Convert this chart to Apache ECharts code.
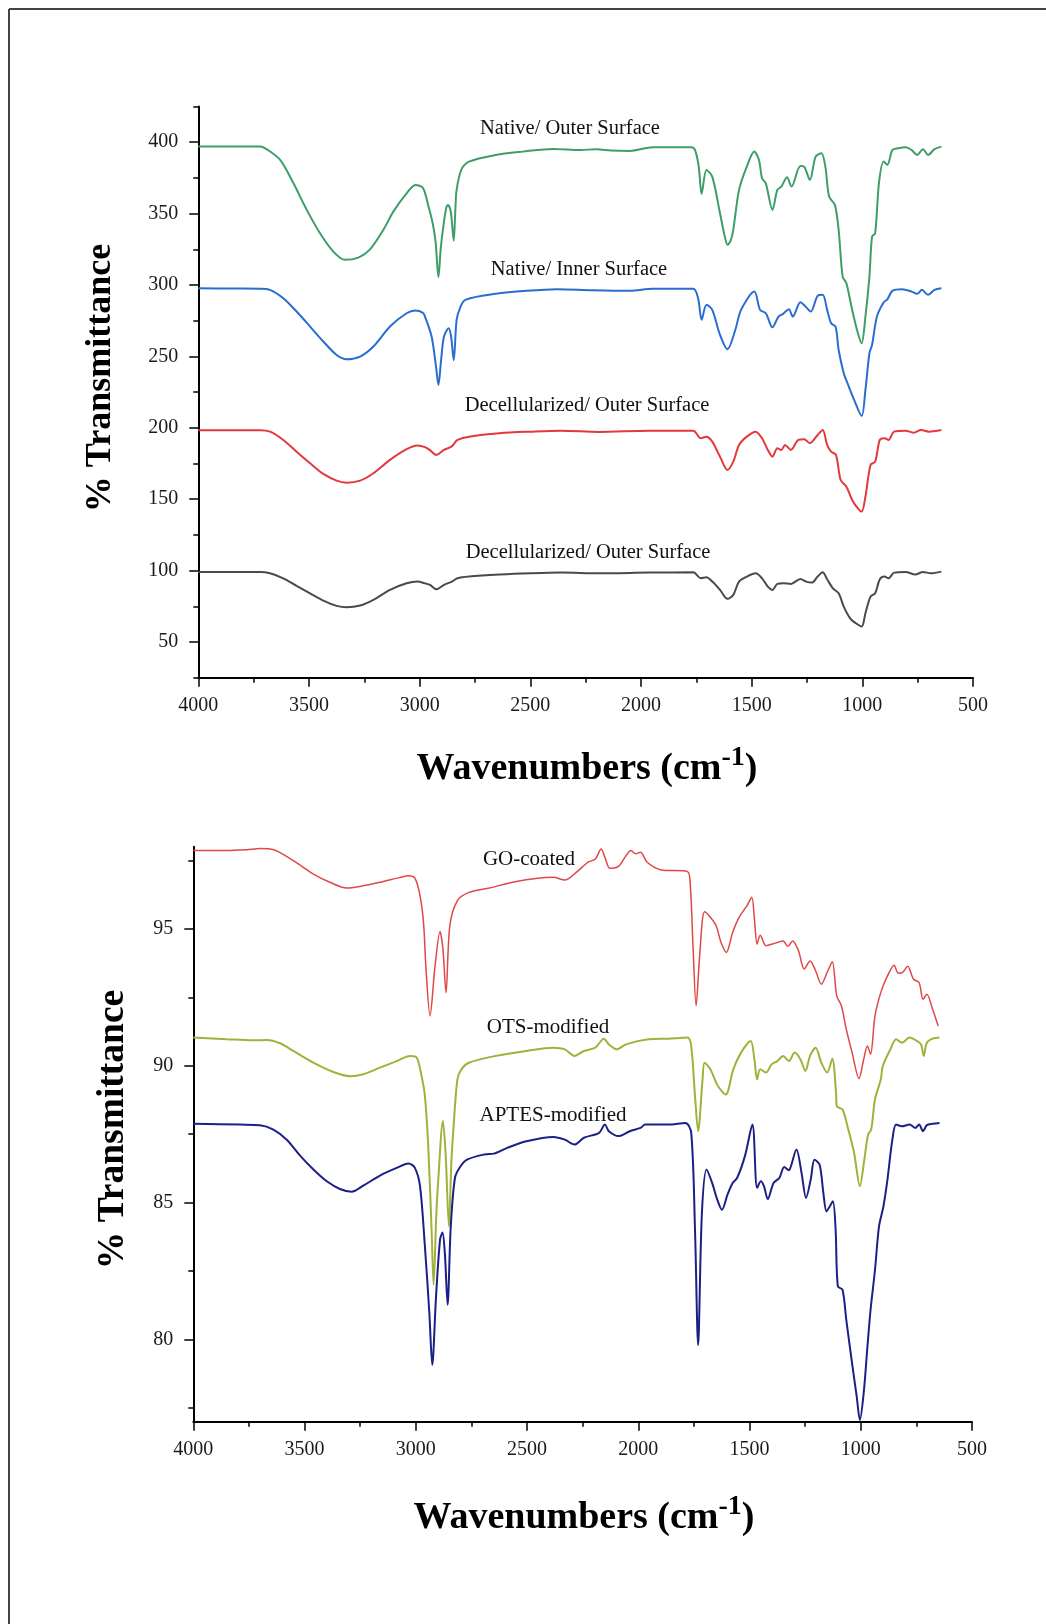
<!DOCTYPE html>
<html>
<head>
<meta charset="utf-8">
<script src="https://cdn.jsdelivr.net/npm/echarts@6/dist/echarts.min.js"></script>
<style>
  html, body { margin: 0; padding: 0; background: #fff; }
  #chart { width: 1046px; height: 1624px; }
</style>
</head>
<body>
<div id="chart"></div>
<script>
// tick values
const xTicks = [4000, 3500, 3000, 2500, 2000, 1500, 1000, 500];
const topYTicks = [50, 100, 150, 200, 250, 300, 350, 400];
const topYMinor = [25, 75, 125, 175, 225, 275, 325, 375, 425];
const bottomYTicks = [80, 85, 90, 95];
const bottomYMinor = [77.5, 82.5, 87.5, 92.5, 97.5];

// top panel spectra [wavenumber, %T] (offset)
const nativeOuter = [[4000,397],[3850,397],[3720,397],[3690,395],[3630,387.6],[3570,371.2],[3510,352.6],[3450,336.2],[3390,323.4],[3337,317.6],[3277,319.2],[3224,325],[3164,338.6],[3119,351.4],[3059,364.2],[3019,370.1],[2985,368],[2960,355],[2941,343.2],[2928,330],[2915,305.5],[2905,325],[2895,338.6],[2880,354],[2872,356.1],[2860,352],[2852,340],[2846,331],[2838,355],[2833,366.6],[2812,380.6],[2777,386.4],[2656,391.1],[2535,393.4],[2396,395.3],[2275,394.6],[2200,395],[2137,394.2],[2050,393.9],[1946,396.5],[1773,396.5],[1756,394.6],[1739,382.9],[1726,363.8],[1704,380.6],[1678,375.9],[1643,350.2],[1620,333],[1609,328.1],[1595,331],[1583,338.6],[1557,366.6],[1522,382.9],[1488,393.4],[1467,387.6],[1453,374.7],[1436,371.2],[1406,352.6],[1384,366.6],[1366,368.9],[1340,375.4],[1320,368.9],[1280,383.4],[1263,382.9],[1237,373.6],[1211,389.9],[1185,392.2],[1167,382.9],[1150,361.9],[1124,356.1],[1107,338.6],[1089,305.9],[1072,301.2],[1046,282.6],[1020,266.2],[1003,259.2],[986,277.9],[968,305.9],[956,333.9],[942,336.2],[925,371.2],[904,386.4],[887,384.1],[864,394.6],[838,395.8],[804,396.5],[778,394.6],[752,391.1],[726,395.1],[703,391.1],[674,395.1],[643,396.9]];
const nativeInner = [[4000,297.7],[3850,297.5],[3720,297.4],[3676,296.6],[3616,290.7],[3556,281.4],[3495,270.9],[3435,260.4],[3375,251.0],[3330,248.0],[3269,249.9],[3209,256.9],[3134,270.9],[3059,280.2],[3019,282.1],[2985,280.5],[2976,277.9],[2946,263.9],[2926,242.9],[2915,230],[2903,247.6],[2890,263.9],[2869,269.7],[2858,264],[2846,247.3],[2833,275.6],[2818,283.7],[2794,289.6],[2656,293.8],[2517,295.9],[2379,297.0],[2223,296.3],[2050,295.9],[1946,297.3],[1764,297.3],[1742,290.7],[1726,275.6],[1704,286.1],[1678,282.6],[1643,265.1],[1609,255.0],[1574,268.5],[1548,282.6],[1488,295.4],[1462,282.6],[1436,280.2],[1406,270.4],[1379,277.9],[1358,279.8],[1332,283],[1314,277.9],[1280,287.9],[1259,285.3],[1233,281.4],[1202,292.4],[1179,293.1],[1159,282.6],[1141,273.2],[1121,270.9],[1107,254.5],[1084,238.2],[1067,231.2],[1037,219.5],[1003,208.3],[986,226.5],[968,252.2],[956,258.1],[934,277.9],[904,287.7],[887,290.0],[864,295.9],[821,297.0],[778,295.4],[752,293.8],[731,296.6],[703,293.1],[674,296.6],[643,297.7]];
const decellOuter = [[4000,198.3],[3850,198.3],[3720,198.3],[3676,197.3],[3616,191.5],[3556,183.3],[3495,175.2],[3435,167.7],[3375,163.0],[3330,161.6],[3269,163.0],[3209,168.2],[3134,177.5],[3059,185.0],[3010,187.6],[2976,186.5],[2955,184.5],[2924,181.0],[2890,184.5],[2855,187],[2829,191.5],[2777,193.8],[2639,196.2],[2500,197.3],[2362,198.0],[2189,197.1],[1964,198.0],[1764,198.0],[1730,192.7],[1704,193.8],[1678,190.3],[1643,179.8],[1609,170.5],[1583,176.3],[1557,188.0],[1522,193.8],[1482,197.3],[1453,192.7],[1427,184.5],[1406,179.8],[1384,185.7],[1366,184.5],[1349,188.0],[1323,184.5],[1289,191.5],[1263,192.0],[1237,189.2],[1202,195.0],[1179,198.5],[1159,188.0],[1141,183.3],[1119,181.0],[1098,163.5],[1072,158.8],[1046,149.5],[1020,143.6],[1003,141.3],[986,151.8],[963,174.0],[942,176.3],[921,191.5],[899,192.7],[882,191.5],[856,197.3],[804,198.0],[769,196.6],[734,198.5],[700,197.3],[643,198.5]];
const decellOuter2 = [[4000,99.1],[3850,99.1],[3720,99.1],[3676,98.1],[3616,94.6],[3556,89.3],[3495,84.1],[3435,79.0],[3375,75.3],[3330,74.3],[3269,75.5],[3209,79.5],[3134,86.5],[3059,91.1],[3010,92.4],[2976,91.1],[2953,90.0],[2924,86.9],[2890,90.0],[2855,92.3],[2829,94.6],[2777,95.8],[2639,97.2],[2500,98.1],[2362,98.6],[2189,98.1],[1964,98.6],[1764,98.8],[1730,94.6],[1704,95.3],[1678,92.3],[1643,86.5],[1609,80.2],[1583,83.0],[1557,92.3],[1522,95.8],[1482,98.1],[1453,94.6],[1427,88.8],[1406,86.5],[1384,90.7],[1358,91.1],[1323,90.7],[1280,94.2],[1254,92.3],[1228,91.6],[1202,95.8],[1179,98.8],[1159,93.9],[1133,87.6],[1107,84.1],[1084,74.8],[1055,66.6],[1029,63.1],[1003,60.8],[986,70.1],[963,81.8],[942,84.1],[921,93.9],[899,95.8],[882,94.6],[856,98.6],[804,99.1],[761,97.2],[726,99.1],[691,98.1],[643,99.3]];

// bottom panel spectra
const goCoated = [[4000,97.86],[3850,97.86],[3760,97.89],[3700,97.93],[3655,97.92],[3618,97.82],[3550,97.49],[3460,97.0],[3386,96.70],[3311,96.49],[3251,96.55],[3161,96.70],[3071,96.88],[3033,96.94],[3004,96.85],[2981,96.21],[2965,95.2],[2954,93.53],[2936,91.82],[2914,93.6],[2891,94.9],[2878,94.26],[2864,92.67],[2847,95.11],[2813,96.03],[2761,96.33],[2675,96.48],[2554,96.72],[2451,96.85],[2382,96.88],[2330,96.78],[2279,97.06],[2227,97.43],[2193,97.55],[2167,97.92],[2150,97.61],[2127,97.21],[2089,97.28],[2055,97.67],[2033,97.86],[2012,97.74],[1990,97.80],[1960,97.43],[1900,97.16],[1779,97.09],[1766,96.58],[1754,94.38],[1740,92.19],[1724,94.02],[1702,95.62],[1676,95.42],[1650,95.11],[1628,94.50],[1604,94.14],[1576,94.87],[1547,95.42],[1512,95.84],[1490,96.15],[1478,95.36],[1466,94.44],[1452,94.77],[1426,94.38],[1401,94.44],[1375,94.50],[1349,94.56],[1328,94.36],[1306,94.56],[1280,94.20],[1254,93.53],[1228,93.83],[1203,93.47],[1177,92.98],[1151,93.41],[1128,93.80],[1108,92.55],[1087,92.19],[1065,91.33],[1039,90.48],[1008,89.53],[987,90.23],[970,90.72],[956,90.42],[936,91.82],[910,92.67],[880,93.28],[850,93.67],[832,93.38],[812,93.41],[789,93.63],[763,93.16],[738,93.04],[720,92.43],[703,92.61],[677,92.06],[652,91.45]];
const otsModified = [[4000,91.03],[3850,90.97],[3730,90.93],[3670,90.94],[3610,90.82],[3550,90.54],[3460,90.11],[3371,89.77],[3296,89.62],[3236,89.69],[3161,89.93],[3086,90.17],[3026,90.36],[2996,90.30],[2974,89.62],[2959,88.9],[2944,87.06],[2929,84.01],[2920,82.0],[2908,84.5],[2899,85.84],[2878,87.98],[2866,86.8],[2851,84.13],[2840,86.5],[2831,87.67],[2813,89.5],[2795,89.87],[2761,90.11],[2640,90.36],[2503,90.54],[2382,90.66],[2330,90.60],[2287,90.36],[2244,90.54],[2193,90.66],[2155,90.99],[2132,90.78],[2098,90.60],[2055,90.78],[2003,90.90],[1952,90.97],[1866,90.99],[1779,91.03],[1762,90.72],[1745,88.89],[1731,87.61],[1711,89.5],[1702,90.11],[1676,89.87],[1642,89.26],[1607,88.95],[1573,89.87],[1538,90.48],[1495,90.90],[1478,90.23],[1466,89.50],[1452,89.87],[1426,89.75],[1401,90.05],[1375,90.17],[1349,90.36],[1323,90.17],[1297,90.48],[1271,90.23],[1249,89.81],[1228,90.36],[1203,90.66],[1177,90.11],[1151,89.75],[1128,90.26],[1111,89.01],[1108,88.52],[1082,88.40],[1056,87.67],[1030,86.82],[1004,85.60],[984,86.57],[967,87.49],[953,87.67],[936,88.77],[910,89.5],[901,89.99],[867,90.60],[841,90.97],[815,90.84],[781,91.03],[746,90.90],[729,90.78],[717,90.36],[703,90.84],[677,90.99],[646,91.03]];
const aptesModified = [[4000,87.88],[3790,87.85],[3700,87.83],[3640,87.67],[3580,87.30],[3520,86.72],[3460,86.21],[3400,85.78],[3341,85.50],[3288,85.40],[3236,85.62],[3161,85.99],[3086,86.27],[3033,86.43],[3004,86.27],[2981,85.6],[2959,83.40],[2939,80.96],[2926,79.07],[2909,81.57],[2891,83.65],[2880,83.91],[2869,83.1],[2857,81.27],[2843,84.1],[2824,85.9],[2801,86.3],[2770,86.57],[2692,86.76],[2649,86.79],[2589,87.0],[2503,87.24],[2382,87.40],[2330,87.30],[2287,87.12],[2244,87.37],[2176,87.55],[2150,87.85],[2132,87.61],[2089,87.43],[2038,87.61],[1990,87.73],[1969,87.85],[1866,87.85],[1788,87.91],[1762,87.55],[1745,84.01],[1731,79.80],[1714,84.62],[1693,86.21],[1668,85.72],[1645,85.11],[1624,84.74],[1599,85.29],[1576,85.72],[1556,85.90],[1521,86.69],[1487,87.85],[1466,85.54],[1449,85.78],[1435,85.60],[1418,85.13],[1392,85.72],[1366,85.90],[1344,86.30],[1323,86.18],[1314,86.33],[1289,86.94],[1266,86.08],[1246,85.17],[1225,85.84],[1208,86.57],[1185,86.39],[1168,85.35],[1154,84.68],[1139,84.87],[1125,85.05],[1113,84.01],[1103,81.94],[1082,81.82],[1065,80.72],[1039,79.13],[1018,77.91],[1004,77.06],[987,78.03],[970,79.74],[956,81.08],[936,82.55],[918,84.13],[898,84.87],[880,85.84],[858,87.30],[841,87.85],[815,87.79],[781,87.85],[755,87.73],[738,87.85],[720,87.61],[703,87.83],[677,87.88],[646,87.91]];

const serif = "'Liberation Serif', 'Times New Roman', serif";
const chart = echarts.init(document.getElementById("chart"));

const makeX = (gridIndex) => ({
  gridIndex,
  type: "value",
  min: 500,
  max: 4000,
  interval: 500,
  inverse: true,
  axisLine: { show: true, onZero: false, lineStyle: { color: "#000", width: 2 } },
  axisTick: { show: true, length: 9, lineStyle: { color: "#000", width: 1.5 } },
  minorTick: { show: true, splitNumber: 2, length: 5, lineStyle: { color: "#000", width: 1.5 } },
  axisLabel: { color: "#1a1a1a", fontFamily: serif, fontSize: 20, margin: 18,
    customValues: xTicks, formatter: (v) => String(v) },
  splitLine: { show: false },
});

const makeY = (gridIndex, min, max, major) => ({
  gridIndex,
  type: "value",
  position: "left",
  min,
  max,
  axisLine: { show: true, onZero: false, lineStyle: { color: "#000", width: 2 } },
  axisTick: { show: true, length: 9, customValues: major, lineStyle: { color: "#000", width: 1.5 } },
  axisLabel: { color: "#1a1a1a", fontFamily: serif, fontSize: 20, margin: 20, customValues: major,
    formatter: (v) => String(v) },
  splitLine: { show: false },
});

// extra axes only for the short minor ticks
const makeYMinor = (gridIndex, min, max, minor) => ({
  gridIndex,
  type: "value",
  position: "left",
  offset: 0,
  min,
  max,
  axisLine: { show: false },
  axisTick: { show: true, length: 5, customValues: minor, lineStyle: { color: "#000", width: 1.5 } },
  axisLabel: { show: false },
  splitLine: { show: false },
});

const line = (data, color, xIdx, yIdx, width) => ({
  type: "line",
  data,
  xAxisIndex: xIdx,
  yAxisIndex: yIdx,
  showSymbol: false,
  smooth: 0.3,
  lineStyle: { color, width },
  animation: false,
});

const label = (text, x, y, size) => ({
  type: "text",
  x,
  y,
  style: { text, fill: "#111", font: size + "px " + serif, align: "center", verticalAlign: "middle" },
});

const xTitle = (x, y) => ({
  type: "text",
  x,
  y,
  style: {
    text: "{a|Wavenumbers (cm}{b|-1}{a|)}",
    align: "center",
    verticalAlign: "middle",
    rich: {
      a: { fontFamily: serif, fontWeight: "bold", fontSize: 38, fill: "#000", lineHeight: 44, verticalAlign: "bottom" },
      b: { fontFamily: serif, fontWeight: "bold", fontSize: 28, fill: "#000", lineHeight: 44, verticalAlign: "top" },
    },
  },
});

const yTitle = (x, y, size) => ({
  type: "text",
  x,
  y,
  rotation: Math.PI / 2,
  style: { text: "% Transmittance", fill: "#000", font: "bold " + size + "px " + serif, align: "center", verticalAlign: "middle" },
});

const option = {
  backgroundColor: "#fff",
  animation: false,
  grid: [
    { left: 198.3, top: 106.5, width: 774.7, height: 571.2 },
    { left: 193.3, top: 846.7, width: 778.7, height: 575 },
  ],
  xAxis: [makeX(0), makeX(1)],
  yAxis: [
    makeY(0, 25, 425, topYTicks),
    makeYMinor(0, 25, 425, topYMinor),
    makeY(1, 77, 98, bottomYTicks),
    makeYMinor(1, 77, 98, bottomYMinor),
  ],
  series: [
    line(nativeOuter, "#3d9e68", 0, 0, 2),
    line(nativeInner, "#2a6dd1", 0, 0, 2),
    line(decellOuter, "#e2393c", 0, 0, 2),
    line(decellOuter2, "#4a4a4a", 0, 0, 2),
    line(goCoated, "#e04848", 1, 2, 1.5),
    line(otsModified, "#9fb33a", 1, 2, 2),
    line(aptesModified, "#1c1f86", 1, 2, 2),
  ],
  graphic: [
    // frame
    { type: "line", shape: { x1: 9, y1: 9, x2: 1046, y2: 9 }, style: { stroke: "#444", lineWidth: 2 } },
    { type: "line", shape: { x1: 9, y1: 9, x2: 9, y2: 1624 }, style: { stroke: "#444", lineWidth: 2 } },
    label("Native/ Outer Surface", 570, 129, 20.5),
    label("Native/ Inner Surface", 579, 270, 20.5),
    label("Decellularized/ Outer Surface", 587, 406, 20.5),
    label("Decellularized/ Outer Surface", 588, 553, 20.5),
    label("GO-coated", 529, 859, 21),
    label("OTS-modified", 548, 1027, 21),
    label("APTES-modified", 553, 1115, 21),
    xTitle(587, 766),
    xTitle(584, 1515),
    yTitle(100.5, 378, 36),
    yTitle(113, 1129.5, 37.5),
  ],
};

chart.setOption(option);
</script>
</body>
</html>
